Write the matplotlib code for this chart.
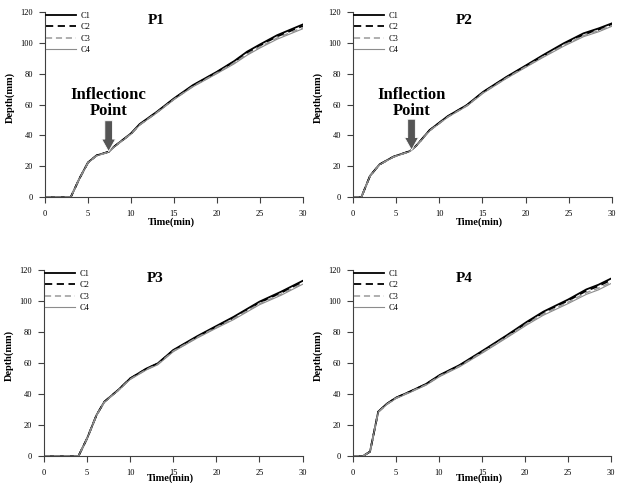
import numpy as np
import matplotlib
matplotlib.use('Agg')
import matplotlib.pyplot as plt

plt.rcParams['font.family'] = ['Liberation Serif', 'DejaVu Serif']

# data (time in min, depth in mm)
p1_t = [0, 3, 4, 5, 6, 7.4, 8.1, 10, 11, 13, 15, 17.2, 20, 22, 23.5, 25, 27, 28.5, 30]
p1_c1 = [0, 0, 12, 22.5, 27, 29.4, 33, 41.3, 47.3, 55.3, 64, 72.6, 81.3, 88.2, 94.3, 99, 105, 108.5, 112]
p1_c2 = [0, 0, 12, 22.3, 27, 29.3, 33, 41, 47, 55, 63.7, 72.2, 81, 87.8, 93.6, 98.3, 104.2, 107.6, 111]
p1_c3 = [0, 0, 12, 22.3, 26.8, 29.2, 32.8, 41, 46.8, 54.8, 63.4, 71.8, 80.5, 87, 92.6, 97.4, 103.2, 106.6, 110]
p1_c4 = [0, 0, 12, 22.2, 26.8, 29.2, 32.8, 40.8, 46.6, 54.6, 63.2, 71.5, 80.1, 86.4, 92, 96.7, 102.4, 105.8, 109.2]

p2_t = [0, 1, 2, 3.1, 4.7, 6.6, 7.4, 8.9, 11, 13.2, 15.1, 17.8, 20.1, 22, 24.4, 26.7, 28.5, 30]
p2_c1 = [0, 0, 13.8, 21.2, 26.2, 29.8, 33.7, 43.5, 52.5, 59.7, 68.3, 78, 85.6, 92, 99.7, 106.2, 109.5, 112.7]
p2_c2 = [0, 0, 13.8, 21.1, 26.1, 29.7, 33.6, 43.3, 52.3, 59.5, 68, 77.7, 85.2, 91.5, 99, 105.4, 108.7, 112]
p2_c3 = [0, 0, 13.7, 21, 26, 29.6, 33.5, 43.1, 52, 59.2, 67.7, 77.3, 84.8, 91, 98.4, 104.7, 108, 111.3]
p2_c4 = [0, 0, 13.7, 21, 26, 29.6, 33.5, 43, 51.8, 59, 67.4, 77, 84.4, 90.5, 97.8, 104, 107.3, 110.8]

p3_t = [0, 4, 5, 6.1, 7, 8.6, 10, 11.9, 13.2, 15, 17.8, 20, 22, 25, 27.5, 30]
p3_c1 = [0, 0, 11.4, 26.5, 35, 42.6, 50.1, 56.5, 59.8, 68.4, 77.4, 83.9, 89.8, 99.6, 106, 113]
p3_c2 = [0, 0, 11.4, 26.5, 35, 42.5, 50, 56.3, 59.6, 68.1, 77, 83.5, 89.3, 99, 105.3, 112.3]
p3_c3 = [0, 0, 11.3, 26.4, 34.8, 42.3, 49.6, 55.9, 59.2, 67.7, 76.6, 83, 88.6, 98.2, 104.4, 111.3]
p3_c4 = [0, 0, 11.3, 26.4, 34.8, 42.2, 49.4, 55.6, 58.9, 67.3, 76.2, 82.5, 88, 97.6, 103.7, 110.8]

p4_t = [0, 1.2, 2, 2.95, 3.9, 5, 6.6, 8.5, 10.1, 12.4, 15.2, 17.9, 20.2, 22.1, 25, 27.1, 28.5, 30]
p4_c1 = [0, 0, 2.8, 28.6, 33.5, 37.6, 41.5, 46.5, 52.3, 58.7, 68.4, 78, 86.6, 93.1, 101, 107.5, 110.5, 114.6]
p4_c2 = [0, 0, 2.8, 28.5, 33.4, 37.5, 41.4, 46.3, 52, 58.4, 68, 77.6, 86, 92.4, 100.3, 106.6, 109.6, 113.7]
p4_c3 = [0, 0, 2.8, 28.4, 33.2, 37.3, 41.2, 46, 51.7, 58, 67.5, 77, 85.3, 91.6, 99.3, 105.4, 108.3, 112.2]
p4_c4 = [0, 0, 2.7, 28.3, 33, 37, 40.9, 45.7, 51.3, 57.6, 67, 76.4, 84.6, 90.8, 98.4, 104.3, 107.2, 111.4]

panel_names = ['P1', 'P2', 'P3', 'P4']
series_names = ['C1', 'C2', 'C3', 'C4']
# inflection annotations: (label, x, arrow top, arrow tip)
p1_note = ('Inflectionc\nPoint', 7.4, 49.5, 29.5)
p2_note = ('Inflection\nPoint', 6.8, 50.5, 30.5)

panels = [
    (p1_t, [p1_c1, p1_c2, p1_c3, p1_c4], p1_note),
    (p2_t, [p2_c1, p2_c2, p2_c3, p2_c4], p2_note),
    (p3_t, [p3_c1, p3_c2, p3_c3, p3_c4], None),
    (p4_t, [p4_c1, p4_c2, p4_c3, p4_c4], None),
]

rects = [
    [0.0726, 0.592, 0.416, 0.383],
    [0.569, 0.592, 0.418, 0.383],
    [0.071, 0.0559, 0.417, 0.385],
    [0.569, 0.0559, 0.417, 0.385],
]
xlabel_y = [-0.108, -0.108, -0.092, -0.092]

styles = [
    dict(color='black', lw=1.3, ls='-'),
    dict(color='black', lw=1.3, ls=(0, (4, 2.5))),
    dict(color='#9a9a9a', lw=1.1, ls=(0, (4, 2.5))),
    dict(color='#8c8c8c', lw=0.8, ls='-'),
]

fig = plt.figure(figsize=(6.2, 4.83), dpi=100)

for i, (t, ys, note) in enumerate(panels):
    ax = fig.add_axes(rects[i])
    for name, y, st in zip(series_names, ys, styles):
        ax.plot(t, y, label=name, **st)
    ax.set_xlim(0, 30)
    ax.set_ylim(0, 120)
    ax.set_xticks(np.arange(0, 31, 5))
    ax.set_yticks(np.arange(0, 121, 20))
    ax.tick_params(labelsize=6, length=4.5, width=0.8, color='#404040', pad=4, direction='out')
    ax.tick_params(axis='x', pad=5)
    for s in ['top', 'right']:
        ax.spines[s].set_visible(False)
    for s in ['left', 'bottom']:
        ax.spines[s].set_color('#404040')
        ax.spines[s].set_linewidth(0.8)
    ax.set_ylabel('Depth(mm)', fontsize=7.5, fontweight='bold')
    ax.yaxis.set_label_coords(-0.116, 0.54)
    ax.set_xlabel('Time(min)', fontsize=7.5, fontweight='bold')
    ax.xaxis.set_label_coords(0.49, xlabel_y[i])
    ax.text(0.43, 0.955, panel_names[i], transform=ax.transAxes, fontsize=11,
            fontweight='bold', ha='center', va='center')
    ax.legend(loc='upper left', bbox_to_anchor=(0.005, 1.0), frameon=False,
              fontsize=6, handlelength=3.6, labelspacing=0.4,
              handletextpad=0.5, borderpad=0, borderaxespad=0)
    if note is not None:
        label, nx, ytop, ytip = note
        ax.annotate('', xy=(nx, ytip), xytext=(nx, ytop),
                    arrowprops=dict(arrowstyle='simple,head_width=1.0,head_length=0.9,tail_width=0.55',
                                    mutation_scale=10, facecolor='#555555',
                                    edgecolor='white', lw=0.6, shrinkA=0, shrinkB=0))
        ax.text(nx, 61, label, fontsize=12, fontweight='bold', ha='center',
                va='center', linespacing=1.0)

fig.savefig('out.png', dpi=100)
